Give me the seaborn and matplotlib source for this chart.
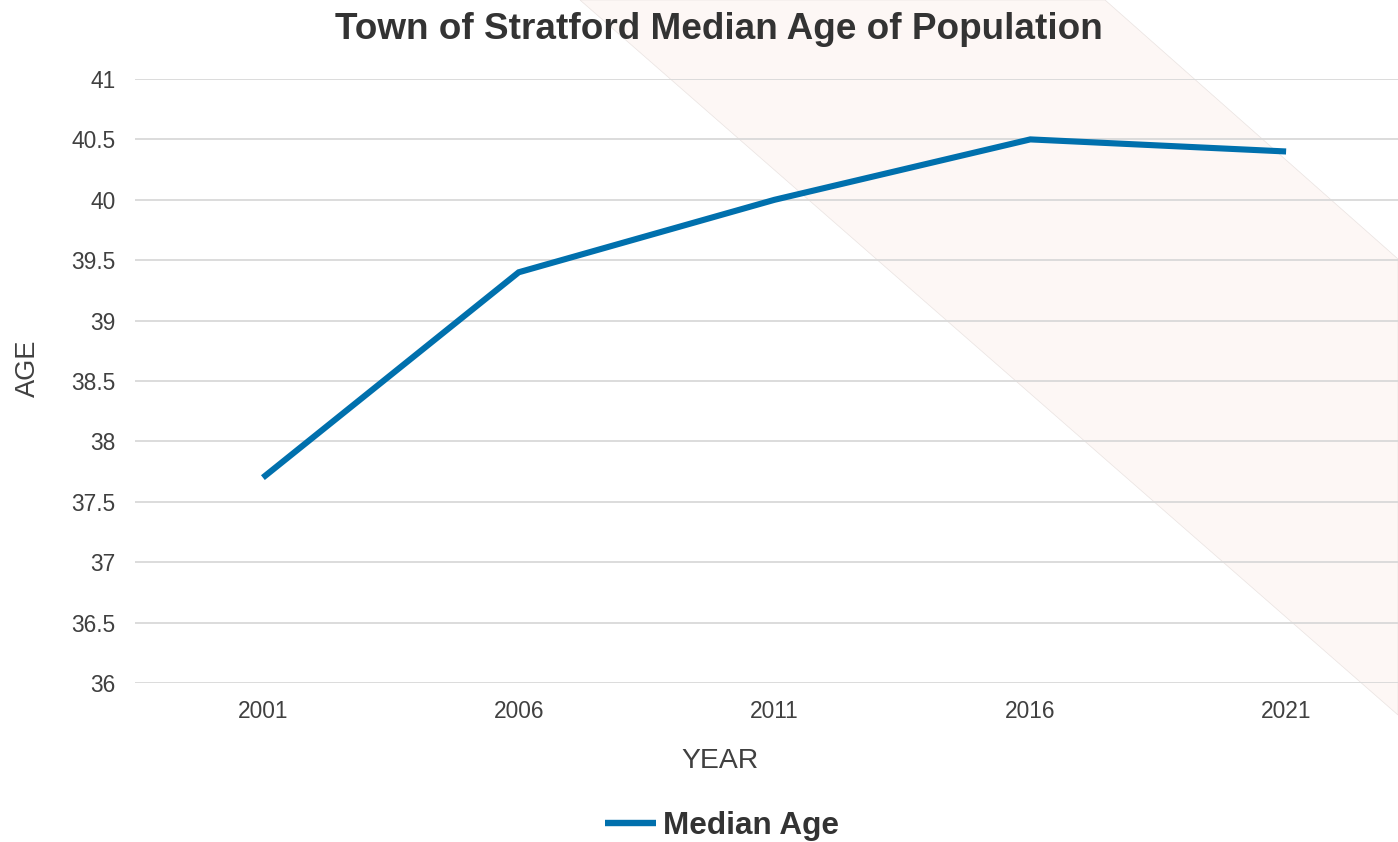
import matplotlib
matplotlib.use("Agg")
import matplotlib.pyplot as plt
from matplotlib.patches import Polygon
import seaborn as sns
import pandas as pd

# ---- data ----
years = ["2001", "2006", "2011", "2016", "2021"]
median_age = [37.7, 39.4, 40.0, 40.5, 40.4]
y_ticks = [36, 36.5, 37, 37.5, 38, 38.5, 39, 39.5, 40, 40.5, 41]
y_tick_labels = ["36", "36.5", "37", "37.5", "38", "38.5", "39", "39.5", "40", "40.5", "41"]
series_name = "Median Age"

df = pd.DataFrame({"YEAR": years, "AGE": median_age, "series": series_name})

sns.set_theme(style="white")
plt.rcParams["font.family"] = ["Liberation Sans", "DejaVu Sans"]

W, H = 1398, 842
fig = plt.figure(figsize=(W / 100, H / 100), dpi=100)
fig.patch.set_facecolor("white")

# decorative diagonal band in background (pixel coords -> figure fraction)
band_px = [(580, 0), (1105, 0), (1398, 259), (1398, 715)]
band = Polygon([(x / W, 1 - y / H) for x, y in band_px], closed=True,
               transform=fig.transFigure, facecolor="#FDF7F5",
               edgecolor="#EAE3E1", linewidth=0.5, zorder=-5)
fig.patches.append(band)

ax_left, ax_right, ax_top, ax_bottom = 135, 1414, 79, 683
ax = fig.add_axes([ax_left / W, 1 - ax_bottom / H, (ax_right - ax_left) / W,
                   (ax_bottom - ax_top) / H])
ax.set_facecolor("none")
ax.set_zorder(1)

sns.lineplot(data=df, x="YEAR", y="AGE", hue="series", palette=["#0070AD"],
             linewidth=4.4, ax=ax, sort=False, legend=False)
for ln in ax.lines:
    ln.set_solid_capstyle("butt")
    ln.set_solid_joinstyle("miter")

ax.set_xlim(-0.5, len(years) - 0.5)
ax.set_ylim(36, 41)
ax.set_yticks(y_ticks)
ax.set_yticklabels(y_tick_labels)
ax.yaxis.grid(True, color="#D9D9D9", linewidth=1.3)
ax.xaxis.grid(False)
ax.set_axisbelow(True)
for s in ax.spines.values():
    s.set_visible(False)

text_color = "#404040"
ax.tick_params(axis="y", length=0, pad=14, labelsize=16.4, labelcolor=text_color)
ax.tick_params(axis="x", length=0, pad=12, labelsize=16.4, labelcolor=text_color)

ax.set_xlabel("YEAR", fontsize=20.4, color=text_color)
ax.xaxis.set_label_coords((720.5 - ax_left) / (ax_right - ax_left),
                          (ax_bottom - 768) / (ax_bottom - ax_top))
ax.xaxis.label.set_va("baseline")
ax.set_ylabel("AGE", fontsize=19.6, color=text_color)
ax.yaxis.set_label_coords((28 - ax_left) / (ax_right - ax_left),
                          (ax_bottom - 368) / (ax_bottom - ax_top))
ax.yaxis.label.set_va("center")

fig.text(719 / W, 1 - 39 / H, "Town of Stratford Median Age of Population",
         ha="center", va="baseline", fontsize=26.6, fontweight="bold",
         color="#333333")

handles = [plt.Line2D([], [], color="#0070AD", linewidth=4.6,
                      solid_capstyle="butt")]
leg = fig.legend(handles, [series_name], loc="center",
                 bbox_to_anchor=(722 / W, 1 - 826 / H), frameon=False,
                 prop={"size": 22.7, "weight": "bold"}, handlelength=1.62,
                 handletextpad=0.22, borderpad=0, borderaxespad=0)
for t in leg.get_texts():
    t.set_color("#333333")

fig.savefig("out.png", dpi=100, facecolor="white")
